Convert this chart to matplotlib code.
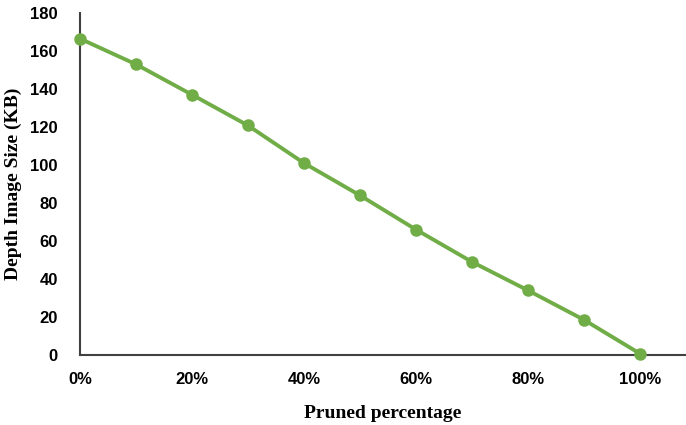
import matplotlib
matplotlib.use("Agg")
import matplotlib.pyplot as plt
from matplotlib.ticker import PercentFormatter

# ===== DATA =====
pruned = [0.0, 0.1, 0.2, 0.3, 0.4, 0.5, 0.6, 0.7, 0.8, 0.9, 1.0]
size_kb = [166.5, 153, 137, 120.8, 101, 84, 66, 49, 34, 18.5, 0.7]
x_ticks = [0.0, 0.2, 0.4, 0.6, 0.8, 1.0]
y_ticks = [0, 20, 40, 60, 80, 100, 120, 140, 160, 180]

green = "#70AD47"
axis_col = "#404040"

fig = plt.figure(figsize=(6.86, 4.25), dpi=100)
ax = fig.add_axes([0.1166, 0.1647, 0.8834, 0.8047])

ax.plot(pruned, size_kb, color=green, lw=2.8, marker="o", ms=8,
        markerfacecolor=green, markeredgecolor=green, clip_on=False, zorder=3)

ax.set_xlim(0, 1.0 + 46 / 560)
ax.set_ylim(0, 180)
ax.set_xticks(x_ticks)
ax.set_yticks(y_ticks)
ax.xaxis.set_major_formatter(PercentFormatter(1.0, decimals=0))

for s in ["top", "right"]:
    ax.spines[s].set_visible(False)
for s in ["left", "bottom"]:
    ax.spines[s].set_color(axis_col)
    ax.spines[s].set_linewidth(1.5)

ax.tick_params(length=0, labelsize=12)
ax.tick_params(axis="y", pad=16)
ax.tick_params(axis="x", pad=12)
for lab in ax.get_xticklabels() + ax.get_yticklabels():
    lab.set_fontfamily("Liberation Sans")
    lab.set_fontweight("bold")
    lab.set_color("#000000")

ax.set_xlabel("Pruned percentage", fontfamily="Liberation Serif",
              fontweight="bold", fontsize=14, labelpad=13)
ax.set_ylabel("Depth Image Size (KB)", fontfamily="Liberation Serif",
              fontweight="bold", fontsize=14, labelpad=6)

fig.savefig("out.png", dpi=100)
